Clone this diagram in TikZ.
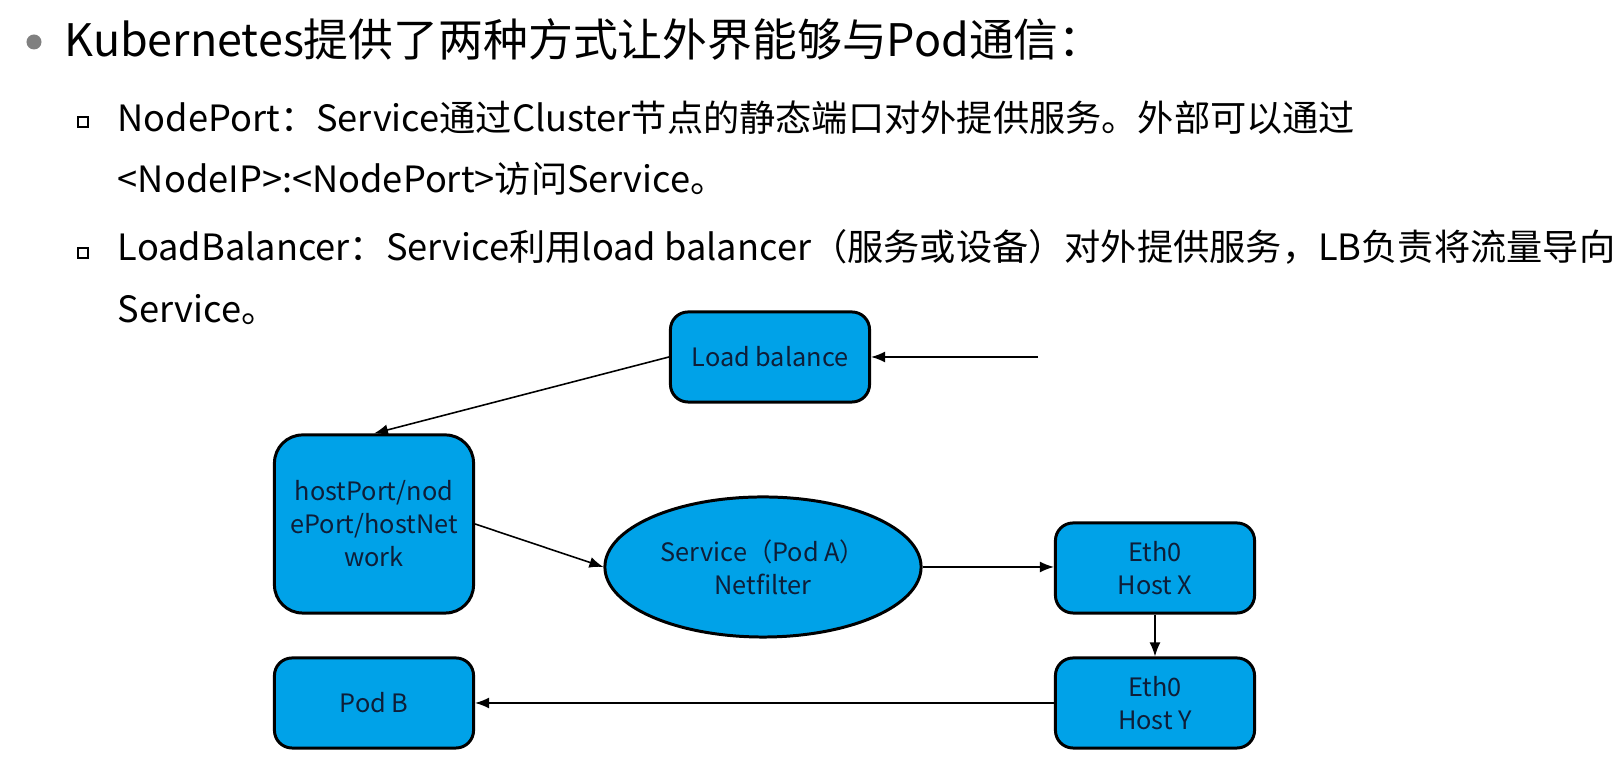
\documentclass[tikz,border=0pt]{standalone}
\usepackage{fontspec}
\setmainfont{Noto Sans CJK SC}
\usetikzlibrary{shapes.geometric}
\usetikzlibrary{arrows.meta}
\definecolor{boxblue}{RGB}{0,162,232}
\definecolor{boxtext}{RGB}{14,30,56}
\definecolor{bulletgrey}{RGB}{128,128,128}
\tikzset{
every picture/.style={line width=0.45pt, >={Latex[length=1.4mm,width=1.1mm]}},
%%%%%%%%%%  Node styles
block/.style={draw, line width=0.85pt, fill=boxblue, rounded corners=5pt,
              text=boxtext, font=\fontsize{7.2}{9.4}\selectfont, align=center,
              minimum width=1.99cm, minimum height=0.9cm, inner sep=1pt},
big_block/.style={block, rounded corners=8pt, minimum height=1.78cm},
pod_ellipse/.style={ellipse, draw, line width=0.85pt, fill=boxblue,
                    text=boxtext, font=\fontsize{7.2}{9.4}\selectfont,
                    align=center, minimum width=3.16cm, minimum height=1.4cm,
                    inner sep=0pt},
%%%% text lines and bullets
title_line/.style={anchor=base west, inner sep=0,
                   font=\fontsize{12.75}{15}\selectfont},
item_line/.style={anchor=base west, inner sep=0,
                  font=\fontsize{10.3}{12}\selectfont},
round_bullet/.style={circle, fill=bulletgrey, minimum size=0.15cm, inner sep=0},
square_bullet/.style={draw, line width=0.8pt, minimum size=0.1cm, inner sep=0}
}

\begin{document}
\begin{tikzpicture}[x=0.01cm, y=-0.01cm]
\useasboundingbox (0,0) rectangle (1623,765);
% bullet text
\node[round_bullet] (b0) at (34,42) {};
\node[title_line] (t0) at (64,57) {Kubernetes提供了两种方式让外界能够与Pod通信：};
\node[square_bullet] (b1) at (83,122) {};
\node[item_line] (t1) at (117,132) {NodePort：Service通过Cluster节点的静态端口对外提供服务。外部可以通过};
\node[item_line] (t2) at (117,193) {<NodeIP>:<NodePort>访问Service。};
\node[square_bullet] (b2) at (83,253) {};
\node[item_line] (t3) at (117,261) {LoadBalancer：Service利用load balancer（服务或设备）对外提供服务，LB负责将流量导向};
\node[item_line] (t4) at (117,323) {Service。};
% diagram
\node[block] (lb) at (770,357) {Load balance};
\node[big_block] (hp) at (374,524) {hostPort/nod\\ePort/hostNet\\work};
\node[pod_ellipse] (svc) at (763,567) {Service（Pod A）\\Netfilter};
\node[block] (hx) at (1155,568) {Eth0\\Host X};
\node[block] (hy) at (1155,703) {Eth0\\Host Y};
\node[block] (pb) at (374,703) {Pod B};
\coordinate (in) at (1038,357);
\draw[->] (in) -- (lb);
\draw[->] (lb.west) -- (hp.north);
\draw[->] (hp.east) -- (svc.west);
\draw[->] (svc.east) -- (svc.east -| hx.west);
\draw[->] (hx) -- (hy);
\draw[->] (hy) -- (pb);
\end{tikzpicture}
\end{document}
